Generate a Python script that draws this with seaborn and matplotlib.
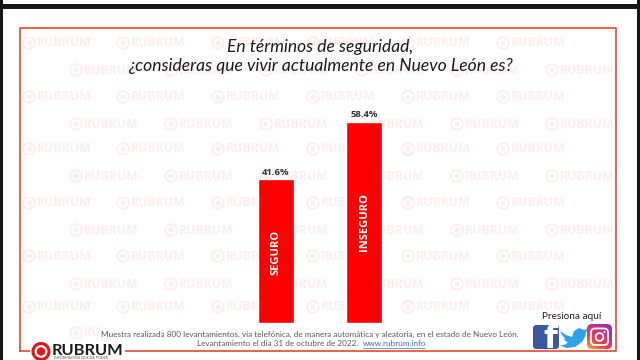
import matplotlib
matplotlib.use("Agg")
import matplotlib.pyplot as plt
import numpy as np
import pandas as pd
import seaborn as sns
from matplotlib.colors import LinearSegmentedColormap
from matplotlib.patches import Circle, FancyBboxPatch, Rectangle, Polygon

categorias = ["SEGURO", "INSEGURO"]
valores = [41.6, 58.4]
etiquetas = ["41.6%", "58.4%"]

pregunta = ["En términos de seguridad,",
            "¿consideras que vivir actualmente en Nuevo León es?"]
nota = ["Muestra realizada 800 levantamientos, vía telefónica, de manera automática y aleatoria, en el estado de Nuevo León.",
        "Levantamiento el día 31 de octubre de 2022."]
enlace = "www.rubrum.info"

# filas de la marca de agua (y en pixeles)
filas_a = [43, 97, 149, 203, 256, 307]
filas_b = [70, 124, 176, 230, 284, 333]
columnas_a = [29, 123, 218, 313, 408, 503]
columnas_b = [76, 171, 266, 362, 457, 552]

ROJO = "#fe0000"
BORDE = "#e8472c"
ROSA = "#fdeeec"

sns.set_theme(style="white")
plt.rcParams["font.family"] = ["Lato", "DejaVu Sans"]

fig = plt.figure(figsize=(6.4, 3.6), dpi=100, facecolor="white")

# capa de fondo en pixeles
bg = fig.add_axes([0, 0, 1, 1], zorder=0)
bg.set_xlim(0, 640)
bg.set_ylim(360, 0)
bg.axis("off")


def marca(ax, x, y, texto="RUBRUM", color=ROSA):
    ax.add_patch(Circle((x, y), 5.8, fill=False, ec=color, lw=1.4))
    ax.add_patch(Circle((x, y), 2.6, fc=color, ec="none"))
    ax.text(x + 8, y, texto, color=color, fontsize=8.8, fontweight="bold",
            va="center", ha="left", family="Open Sans")


for y in filas_a:
    for x in columnas_a:
        marca(bg, x, y)
for y in filas_b:
    for x in columnas_b:
        if y == 333:
            if x == 76:
                marca(bg, x, y, "RU")
            continue
        marca(bg, x, y)

# marco negro de la captura
bg.add_patch(Rectangle((0, 4), 640, 5, fc="#161616", ec="none"))
bg.add_patch(Rectangle((0, 0), 3, 360, fc="#161616", ec="none"))
bg.add_patch(Rectangle((637, 0), 3, 360, fc="#161616", ec="none"))

# borde rojo
bg.plot([19.5, 19.5, 616, 616, 19.5], [351, 28, 28, 351, 351], color=BORDE, lw=1.2)

# grafica
ax = fig.add_axes([232 / 640, (360 - 322.5) / 360, 176 / 640, 206.4 / 360],
                  zorder=2, facecolor="none")
df = pd.DataFrame({"categoria": categorias, "valor": valores})
sns.barplot(data=df, x="categoria", y="valor", color=ROJO, saturation=1,
            width=0.4, ax=ax)
ax.set_xlim(-0.5, 1.5)
ax.set_ylim(0, 60)
ax.axis("off")
for i, p in enumerate(ax.patches):
    cx = p.get_x() + p.get_width() / 2
    ax.text(cx, p.get_height() + 0.8, etiquetas[i], ha="center", va="bottom",
            fontsize=6.8, fontweight="bold", color="#333333", family="Open Sans")
    ax.text(cx, 20.5 if i == 0 else 29.2, categorias[i], rotation=90,
            ha="center", va="center", fontsize=8, fontweight="bold", color="white",
            family="Open Sans")

# textos y decoracion encima
top = fig.add_axes([0, 0, 1, 1], zorder=3, facecolor="none")
top.set_xlim(0, 640)
top.set_ylim(360, 0)
top.axis("off")

top.text(320, 52, pregunta[0], ha="center", va="baseline", fontsize=12.5,
         style="italic", color="#1a1a1a")
top.text(320, 71, pregunta[1], ha="center", va="baseline", fontsize=12.6,
         style="italic", color="#1a1a1a")

top.text(310, 334, nota[0], ha="center", va="center", fontsize=5.9, color="#595959")
top.text(197, 344, nota[1], ha="left", va="center", fontsize=5.9, color="#595959")
top.text(363, 344, enlace, ha="left", va="center", fontsize=5.9, color="#3d6fb0")
top.plot([363, 425], [347.5, 347.5], color="#3d6fb0", lw=0.5)

# logo abajo a la izquierda
top.add_patch(Rectangle((30, 345), 95, 15, fc="white", ec="none"))
top.add_patch(Circle((41, 351.5), 8, fc="white", ec="#e01414", lw=2.2))
top.add_patch(Circle((41, 351.5), 4.2, fc="#f01414", ec="none"))
top.text(52, 351, "RUBRUM", fontsize=11.8, fontweight="bold", color="#1c1c1c",
         va="center", ha="left")
top.text(54, 358.5, "INFORMACIÓN QUE DA PODER", fontsize=2.6, color="#555555",
         va="center", ha="left")

# redes
top.text(571.5, 316.5, "Presiona aquí", ha="center", va="center", fontsize=7.2,
         color="#222222")
top.add_patch(FancyBboxPatch((533, 325), 26, 24, boxstyle="round,pad=0,rounding_size=3.5",
                             fc="#3b5998", ec="none"))
top.text(550, 339, "f", ha="center", va="center", fontsize=23, fontweight="bold",
         color="white", family="DejaVu Sans", clip_on=True)
pajaro = [(560, 331), (566, 335), (572, 337), (574, 331), (579, 328), (584, 330),
          (588, 328.5), (586, 332), (585.5, 336), (582, 342), (575, 347), (567, 348),
          (560, 345.5), (565, 344.5), (568, 342.5), (564, 340), (565, 338.5), (562, 335)]
top.add_patch(Polygon(pajaro, closed=True, fc="#2fa1e6", ec="none"))

# instagram con degradado
cmap = LinearSegmentedColormap.from_list("ig", ["#7a35c0", "#c92f8c", "#e8404f", "#f5a733"])
grad = np.add.outer(np.linspace(0, 1, 32), np.linspace(1, 0.3, 32)) / 2
fondo = top.imshow(grad, extent=(587, 612, 349, 324), cmap=cmap, aspect="auto",
                   origin="upper", zorder=1)
caja = FancyBboxPatch((587, 324), 25, 25, boxstyle="round,pad=0,rounding_size=5",
                      fc="none", ec="none", transform=top.transData)
top.add_patch(caja)
fondo.set_clip_path(caja)
top.set_xlim(0, 640)
top.set_ylim(360, 0)
top.add_patch(FancyBboxPatch((591, 328.5), 17, 16.5, boxstyle="round,pad=0,rounding_size=4",
                             fill=False, ec="white", lw=1.3, zorder=3))
top.add_patch(Circle((599.5, 337), 3.9, fill=False, ec="white", lw=1.3, zorder=3))
top.add_patch(Circle((604.5, 332), 1, fc="white", ec="none", zorder=3))

fig.savefig("out.png", dpi=100)
